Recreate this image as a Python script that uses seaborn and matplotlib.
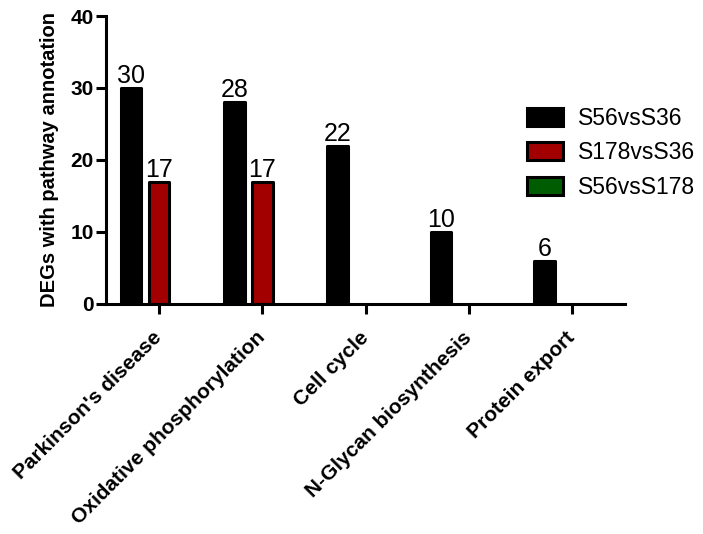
import numpy as np
import pandas as pd
import matplotlib
matplotlib.use("Agg")
import matplotlib.pyplot as plt
import matplotlib.patches as mpatches
import seaborn as sns

# data
pathways = ["Parkinson's disease", "Oxidative phosphorylation", "Cell cycle",
            "N-Glycan biosynthesis", "Protein export"]
groups = ["S56vsS36", "S178vsS36", "S56vsS178"]
s56_vs_s36 = [30, 28, 22, 10, 6]
s178_vs_s36 = [17, 17, np.nan, np.nan, np.nan]
s56_vs_s178 = [np.nan, np.nan, np.nan, np.nan, np.nan]
colors = ["#000000", "#A20000", "#005C00"]

df = pd.DataFrame({
    "Pathway": pathways * 3,
    "Group": np.repeat(groups, len(pathways)),
    "Count": s56_vs_s36 + s178_vs_s36 + s56_vs_s178,
})
df = df.dropna()

sns.set_style("ticks")
plt.rcParams["font.family"] = ["Liberation Sans", "DejaVu Sans"]
plt.rcParams["text.color"] = "black"
plt.rcParams["axes.labelcolor"] = "black"
plt.rcParams["xtick.color"] = "black"
plt.rcParams["ytick.color"] = "black"
plt.rcParams["axes.edgecolor"] = "black"

fig = plt.figure(figsize=(7.03, 5.34), dpi=100)
ax = fig.add_axes([0.151, 0.431, 0.738, 0.539])

sns.barplot(data=df, x="Pathway", y="Count", hue="Group", order=pathways,
            hue_order=groups, palette=colors, saturation=1, width=0.81, gap=0.26,
            edgecolor="black", linewidth=2.2, legend=False, ax=ax)

for bar in ax.patches:
    bar.set_joinstyle("round")

for cont in ax.containers:
    labels = [f"{v:g}" if v > 0 else "" for v in cont.datavalues]
    ax.bar_label(cont, labels=labels, fontsize=18, padding=0, color="black")

ax.set_ylim(0, 40)
ax.set_xlim(-0.51, 4.51)
ax.set_yticks([0, 10, 20, 30, 40])
ax.set_xlabel("")
ax.set_ylabel("DEGs with pathway annotation", fontsize=14.5, fontweight="bold", labelpad=8)
sns.despine(ax=ax)
for side in ["left", "bottom"]:
    ax.spines[side].set_linewidth(2.2)
ax.tick_params(axis="both", width=2.2, length=7, labelsize=15)
ax.tick_params(axis="y", pad=2)
ax.tick_params(axis="x", pad=15)
for lbl in ax.get_yticklabels():
    lbl.set_fontweight("bold")
ax.set_xticks(range(len(pathways)))
ax.set_xticklabels(pathways, rotation=45, ha="right", va="center",
                   rotation_mode="anchor", fontweight="bold", fontsize=15)

handles = [mpatches.Patch(facecolor=c, edgecolor="black", linewidth=2.2, label=g)
           for c, g in zip(colors, groups)]
fig.legend(handles=handles, loc="upper left", bbox_to_anchor=(0.75, 0.80),
           frameon=False, fontsize=16.5, handlelength=1.55, handleheight=0.85,
           labelspacing=0.5, handletextpad=0.65, borderpad=0, borderaxespad=0)

fig.savefig("out.png", dpi=100)
